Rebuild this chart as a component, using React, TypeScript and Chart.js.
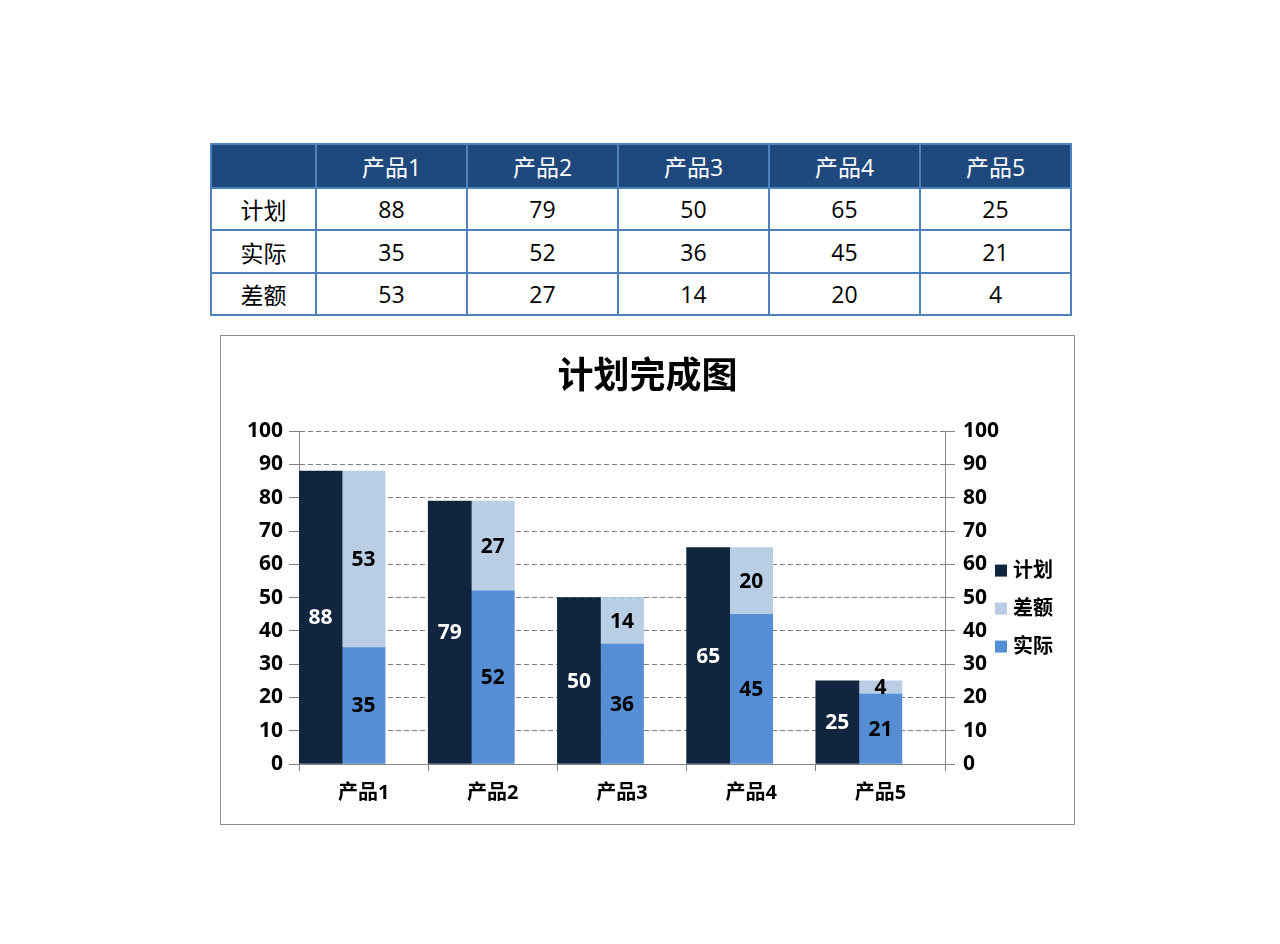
import { Chart, registerables } from "chart.js";
import React, { useEffect, useRef } from "react";

Chart.register(...registerables);

const FONT = "'Open Sans', 'Noto Sans CJK SC', sans-serif";

const products = ["产品1", "产品2", "产品3", "产品4", "产品5"];
const planValues = [88, 79, 50, 65, 25];
const actualValues = [35, 52, 36, 45, 21];
const gapValues = [53, 27, 14, 20, 4];
const yTicks = [0, 10, 20, 30, 40, 50, 60, 70, 80, 90, 100];

const seriesNames = ["计划", "实际", "差额"];
const seriesColors = ["#11253F", "#558ED5", "#B9CDE5"];
const legendOrder = [0, 2, 1]; // 计划, 差额, 实际

// bar value labels, centred in each segment
const valueLabels = {
  id: "valueLabels",
  afterDatasetsDraw(chart: any) {
    const { ctx } = chart;
    ctx.save();
    ctx.font = `bold 21px ${FONT}`;
    ctx.textAlign = "center";
    ctx.textBaseline = "middle";
    [0, 1, 2].forEach((di) => {
      const meta = chart.getDatasetMeta(di);
      const values = chart.data.datasets[di].data;
      ctx.fillStyle = di === 0 ? "#ffffff" : "#000000";
      meta.data.forEach((bar: any, i: number) => {
        const p = bar.getCenterPoint();
        ctx.fillText(String(values[i]), p.x, p.y + 1);
      });
    });
    ctx.restore();
  },
};

// vertical legend to the right of the secondary axis
const sideLegend = {
  id: "sideLegend",
  afterDraw(chart: any) {
    const { ctx, chartArea } = chart;
    const x = chartArea.right + 50;
    const mid = (chartArea.top + chartArea.bottom) / 2 + 11;
    ctx.save();
    ctx.font = `bold 20px ${FONT}`;
    ctx.textBaseline = "middle";
    ctx.textAlign = "left";
    legendOrder.forEach((di, i) => {
      const y = mid + (i - 1) * 38;
      ctx.fillStyle = seriesColors[di];
      ctx.fillRect(x, y - 6, 12, 12);
      ctx.fillStyle = "#000";
      ctx.fillText(seriesNames[di], x + 18, y + 1);
    });
    ctx.restore();
  },
};

const PlanChart: React.FC = () => {
  const canvasRef = useRef<HTMLCanvasElement | null>(null);
  const chartRef = useRef<Chart | null>(null);

  useEffect(() => {
    if (chartRef.current) chartRef.current.destroy();
    if (!canvasRef.current) return;

    const tickFont = { family: FONT, size: 21, weight: "bold" as const };

    chartRef.current = new Chart(canvasRef.current, {
      type: "bar",
      data: {
        labels: products,
        datasets: [
          {
            label: seriesNames[0],
            data: planValues,
            backgroundColor: seriesColors[0],
            stack: "plan",
          },
          {
            label: seriesNames[1],
            data: actualValues,
            backgroundColor: seriesColors[1],
            stack: "done",
          },
          {
            label: seriesNames[2],
            data: gapValues,
            backgroundColor: seriesColors[2],
            stack: "done",
          },
          {
            // empty slot so the bar pair sits at the left of each category
            label: "",
            data: products.map(() => 0),
            backgroundColor: "rgba(0,0,0,0)",
            stack: "blank",
          },
        ],
      },
      options: {
        animation: false,
        responsive: true,
        maintainAspectRatio: false,
        layout: { padding: { left: 0, right: 0, top: 0, bottom: 9 } },
        datasets: {
          bar: { categoryPercentage: 1, barPercentage: 1, borderWidth: 0 },
        },
        plugins: {
          title: {
            display: true,
            text: "计划完成图",
            color: "#000",
            font: { family: FONT, size: 36, weight: "bold" },
            padding: { top: 20, bottom: 32 },
          },
          legend: { display: false },
          tooltip: { enabled: false },
        },
        scales: {
          x: {
            stacked: true,
            grid: {
              drawOnChartArea: false,
              color: "#868686",
              tickLength: 7,
              offset: true,
            },
            border: { color: "#868686", width: 1 },
            ticks: { color: "#000", font: { ...tickFont, size: 20 }, padding: 10 },
          },
          y: {
            stacked: true,
            min: 0,
            max: 100,
            position: "left",
            afterFit: (s: any) => {
              s.width = 78;
            },
            afterBuildTicks: (s: any) => {
              s.ticks = yTicks.map((v) => ({ value: v }));
            },
            grid: { color: "#808080", tickLength: 10 },
            border: { color: "#868686", width: 1, dash: [5, 3] },
            ticks: { color: "#000", font: tickFont, padding: 6 },
          },
          y2: {
            min: 0,
            max: 100,
            position: "right",
            afterFit: (s: any) => {
              // room for the tick labels plus the legend
              s.width = 129;
            },
            afterBuildTicks: (s: any) => {
              s.ticks = yTicks.map((v) => ({ value: v }));
            },
            grid: { drawOnChartArea: false, color: "#868686", tickLength: 10 },
            border: { color: "#868686", width: 1 },
            ticks: { color: "#000", font: tickFont, padding: 8 },
          },
        },
      },
      plugins: [valueLabels, sideLegend],
    });

    return () => {
      if (chartRef.current) {
        chartRef.current.destroy();
        chartRef.current = null;
      }
    };
  }, []);

  return (
    <div
      style={{
        position: "absolute",
        left: 220,
        top: 335,
        width: 853,
        height: 488,
        border: "1px solid #8c8c8c",
        background: "#fff",
      }}
    >
      <canvas ref={canvasRef}></canvas>
    </div>
  );
};

const rowData = [planValues, actualValues, gapValues];
const rowHeights = [42, 43, 42];

const cellBorder = "2px solid #4F81BD";

const DataTable: React.FC = () => (
  <table
    style={{
      position: "absolute",
      left: 210,
      top: 143,
      width: 861,
      borderCollapse: "collapse",
      tableLayout: "fixed",
      fontFamily: FONT,
      fontSize: 23,
      textAlign: "center",
    }}
  >
    <colgroup>
      <col style={{ width: 105 }} />
      {products.map((p) => (
        <col key={p} style={{ width: 151 }} />
      ))}
    </colgroup>
    <tbody>
      <tr style={{ height: 44, background: "#1F497D", color: "#fff" }}>
        <td style={{ border: cellBorder }}></td>
        {products.map((p) => (
          <td key={p} style={{ border: cellBorder, padding: 0 }}>
            {p}
          </td>
        ))}
      </tr>
      {rowData.map((row, r) => (
        <tr key={r} style={{ height: rowHeights[r], color: "#000" }}>
          <td style={{ border: cellBorder, padding: 0 }}>{seriesNames[r]}</td>
          {row.map((v, i) => (
            <td key={i} style={{ border: cellBorder, padding: 0 }}>
              {v}
            </td>
          ))}
        </tr>
      ))}
    </tbody>
  </table>
);

export default function App() {
  return (
    <div
      style={{
        position: "absolute",
        left: 0,
        top: 0,
        width: 1280,
        height: 944,
        background: "#fff",
      }}
    >
      <DataTable />
      <PlanChart />
    </div>
  );
}
